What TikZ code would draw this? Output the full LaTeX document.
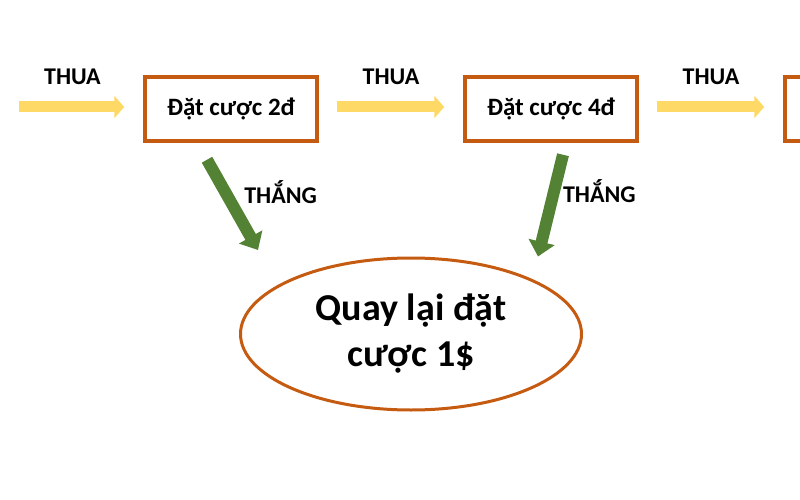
\documentclass[tikz,border=0pt]{standalone}
\usepackage{fontspec}
\setmainfont{Carlito}
\usetikzlibrary{shapes,arrows.meta}
\definecolor{betorange}{RGB}{197,90,17}
\definecolor{losegold}{RGB}{255,217,102}
\definecolor{wingreen}{RGB}{84,130,53}

\begin{document}
\begin{tikzpicture}[x=1pt,y=1pt]

	\tikzstyle{betbox}=[draw=betorange,line width=3.5pt,rectangle,minimum width=172pt,minimum height=64pt,font=\fontsize{25}{30}\selectfont\bfseries]
	\tikzstyle{restart}=[draw=betorange,line width=3pt,ellipse,minimum width=341pt,minimum height=152pt,inner sep=0pt,align=center,font=\fontsize{38}{46}\selectfont\bfseries]
	\tikzstyle{lose}=[losegold,line width=11pt,-{Triangle[length=10pt,width=22pt]},shorten <=18pt,shorten >=19pt]
	\tikzstyle{win}=[wingreen,line width=12pt,-{Triangle[length=15pt,width=26pt]}]
	\tikzstyle{lbl}=[inner sep=2pt,text=black,font=\fontsize{24}{29}\selectfont\bfseries]

	\useasboundingbox (0,0) rectangle (800,499);

	\node[betbox] (b2) at (231,390) {Đặt cược 2đ};
	\node[betbox] (b4) at (551,390) {Đặt cược 4đ};
	\node[betbox] (b8) at (871,390) {};

	\node[restart] (back) at (411,165) {Quay lại đặt\\cược 1\$};

	\coordinate (in) at (19,392);
	\draw[lose,shorten <=0pt] (in) -- ([yshift=2pt]b2.west) node[lbl,pos=0.43,above=15pt] {THUA};
	\draw[lose] ([yshift=2pt]b2.east) -- ([yshift=2pt]b4.west) node[lbl,midway,above=15pt] {THUA};
	\draw[lose] ([yshift=2pt]b4.east) -- ([yshift=2pt]b8.west) node[lbl,midway,above=15pt] {THUA};

	\draw[win] ([xshift=-24pt,yshift=-17pt]b2.south) -- ([xshift=-153pt,yshift=6.5pt]back.north) node[lbl,pos=0.36,right=11pt] {THẮNG};
	\draw[win] ([xshift=12pt,yshift=-12pt]b4.south) -- ([xshift=127pt]back.north) node[lbl,pos=0.36,right=1pt] {THẮNG};

\end{tikzpicture}
\end{document}
